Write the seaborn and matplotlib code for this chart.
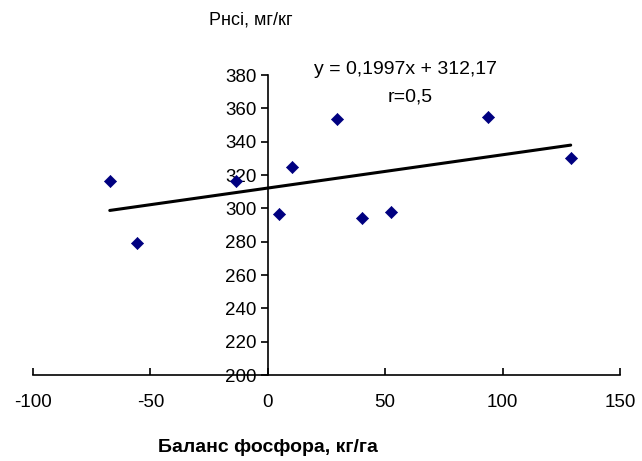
import matplotlib
matplotlib.use("Agg")
import matplotlib.pyplot as plt
import seaborn as sns
import numpy as np
import pandas as pd

# data
balance = [-67.3, -55.8, -13.6, 4.7, 10.2, 29.4, 40.0, 52.4, 93.7, 129.0]
p_hcl = [316.4, 279.2, 316.4, 296.6, 324.8, 353.6, 294.2, 297.8, 354.8, 330.2]
slope = 0.1997
intercept = 312.17
eq_text = "y = 0,1997x + 312,17"
r_text = "r=0,5"
x_ticks = [-100, -50, 0, 50, 100, 150]
y_ticks = [200, 220, 240, 260, 280, 300, 320, 340, 360, 380]
x_label = "Баланс фосфора, кг/га"
y_label = "Pнсі, мг/кг"

sns.set_style("white")
plt.rcParams['font.family'] = ['Liberation Sans', 'DejaVu Sans']
plt.rcParams['axes.unicode_minus'] = False
plt.rcParams['text.color'] = 'black'

W, H = 642, 461
fig = plt.figure(figsize=(W / 100, H / 100), dpi=100)
ax = fig.add_axes([33 / W, (H - 375) / H, (620 - 33) / W, 300 / H])

df = pd.DataFrame({"x": balance, "y": p_hcl})
tx = np.array([min(balance), max(balance)])
trend = pd.DataFrame({"x": tx, "y": slope * tx + intercept})

sns.lineplot(data=trend, x="x", y="y", color="black", linewidth=2.2, ax=ax)
sns.scatterplot(data=df, x="x", y="y", marker="D", color="#000080",
                edgecolor="#000080", s=38, ax=ax, zorder=3)

ax.set_xlim(-100, 150)
ax.set_ylim(200, 380)
ax.set_xticks(x_ticks)
ax.set_yticks(y_ticks)
ax.set_xlabel("")
ax.set_ylabel("")

for s in ["top", "right"]:
    ax.spines[s].set_visible(False)
ax.spines["left"].set_position(("data", 0))
ax.spines["left"].set_color("black")
ax.spines["bottom"].set_color("black")
ax.spines["left"].set_linewidth(1.2)
ax.spines["bottom"].set_linewidth(1.2)

ax.tick_params(axis="x", direction="in", length=5, width=1.2, colors="black",
               labelsize=13.5, pad=14)
ax.tick_params(axis="y", direction="out", length=5, width=1.2, colors="black",
               labelsize=13.5, pad=3)
ax.xaxis.set_ticks_position("bottom")
ax.yaxis.set_ticks_position("left")

fig.text(251 / W, 1 - 20 / H, y_label, fontsize=13, ha="center", va="center")
fig.text(406 / W, 1 - 70 / H, eq_text, fontsize=14, ha="center", va="center")
fig.text(410 / W, 1 - 97 / H, r_text, fontsize=14, ha="center", va="center")
fig.text(268 / W, 1 - 447 / H, x_label, fontsize=14, fontweight="bold",
         ha="center", va="center")

fig.savefig("out.png", dpi=100)
